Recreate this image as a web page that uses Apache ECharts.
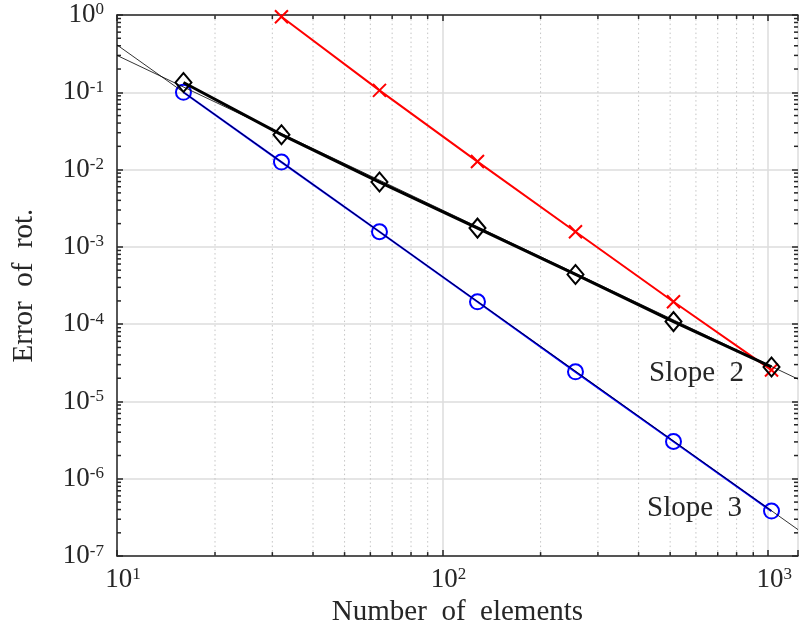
<!DOCTYPE html>
<html>
<head>
<meta charset="utf-8">
<script src="https://cdn.jsdelivr.net/npm/echarts@6/dist/echarts.min.js"></script>
<style>html,body{margin:0;padding:0;background:#fff;overflow:hidden;}#c{width:801px;height:632px;}</style>
</head>
<body>
<div id="c"></div>
<script>
// ---- data ----
const elements = [16, 32, 64, 128, 256, 512, 1024];
const errBlue = [0.1, 0.0125, 0.00157, 1.95e-4, 2.42e-5, 3.04e-6, 3.82e-7];      // blue circles
const errBlack = [0.134, 0.0283, 0.0069, 0.00175, 4.4e-4, 1.08e-4, 2.8e-5];      // black diamonds
const elementsRed = [32, 64, 128, 256, 512, 1024];
const errRed = [0.95, 0.106, 0.0127, 0.00157, 1.95e-4, 2.55e-5];                 // red crosses
const refX = [10, 1235];
const refSlope2 = [0.30, 1.95e-5];
const refSlope3 = [0.41, 2.2e-7];
const xMin = 10, xMax = 1235, yMin = 1e-7, yMax = 1;
const mantissas = [2, 3, 4, 5, 6, 7, 8, 9];
const xMinorDecades = [10, 100];
const yMinorDecades = [1e-7, 1e-6, 1e-5, 1e-4, 1e-3, 1e-2, 1e-1];
const annotations = [
  { text: 'Slope  2', left: 649, y: 373 },
  { text: 'Slope  3', left: 647, y: 508 }
];

const FONT = "'Liberation Serif', 'DejaVu Serif', serif";
const AX = '#262626';

const xMinor = [];
xMinorDecades.forEach(d => mantissas.forEach(m => xMinor.push([m * d, yMin])));
const yMinor = [];
yMinorDecades.forEach(d => mantissas.forEach(m => yMinor.push([xMin, m * d])));

function zip(a, b) { return a.map((v, i) => [v, b[i]]); }
function powLabel(v) {
  const l = Math.log10(v);
  const e = Math.round(l);
  if (Math.abs(l - e) > 1e-6) return '';
  return '{b|10}{s|' + e + '}';
}
const rich = {
  b: { fontSize: 27, fontFamily: FONT, color: AX },
  s: { fontSize: 17, fontFamily: FONT, color: AX, verticalAlign: 'top' }
};

const chart = echarts.init(document.getElementById('c'), null, { renderer: 'canvas', width: 801, height: 632 });

const axisLineStyle = { color: AX, width: 1.5 };

chart.setOption({
  animation: false,
  backgroundColor: '#fff',
  grid: { left: 117, width: 684, top: 15, height: 542 },
  xAxis: [
    {
      type: 'log', logBase: 10, min: xMin, max: xMax, interval: 1, position: 'bottom',
      axisLine: { show: true, lineStyle: axisLineStyle },
      axisTick: { show: true, inside: true, length: 6, lineStyle: axisLineStyle },
      axisLabel: { formatter: powLabel, rich: rich, margin: 10, padding: [0, 0, 0, 12], showMinLabel: true, showMaxLabel: true },
      splitLine: { show: true, lineStyle: { color: '#dcdcdc', width: 1.5 } },
      name: 'Number  of  elements', nameLocation: 'middle', nameGap: 39,
      nameTextStyle: { fontSize: 29, fontFamily: FONT, color: AX }
    },
    {
      type: 'log', logBase: 10, min: xMin, max: xMax, interval: 1, position: 'top',
      axisLine: { show: true, lineStyle: axisLineStyle },
      axisTick: { show: true, inside: true, length: 6, lineStyle: axisLineStyle },
      axisLabel: { show: false },
      splitLine: { show: false }
    }
  ],
  yAxis: [
    {
      type: 'log', logBase: 10, min: yMin, max: yMax, interval: 1, position: 'left',
      axisLine: { show: true, lineStyle: axisLineStyle },
      axisTick: { show: true, inside: true, length: 6, lineStyle: axisLineStyle },
      axisLabel: { formatter: powLabel, rich: rich, margin: 13 },
      splitLine: { show: true, lineStyle: { color: '#dcdcdc', width: 1.5 } },
      name: 'Error  of  rot.', nameLocation: 'middle', nameGap: 78,
      nameTextStyle: { fontSize: 29, fontFamily: FONT, color: AX }
    },
    {
      type: 'log', logBase: 10, min: yMin, max: yMax, interval: 1, position: 'right',
      axisLine: { show: false },
      axisTick: { show: true, inside: true, length: 6, lineStyle: axisLineStyle },
      axisLabel: { show: false },
      splitLine: { show: false }
    }
  ],
  graphic: annotations.map(a => ({
    type: 'text', left: a.left, top: a.y - 14, z: 50,
    style: { text: a.text, font: '29px ' + FONT, fill: AX }
  })),
  series: [
    {
      type: 'custom', silent: true, clip: false, z: 1,
      xAxisIndex: 0, yAxisIndex: 0,
      data: xMinor,
      renderItem: function (params, api) {
        const x = api.value(0);
        const b = api.coord([x, yMin]);
        const t = api.coord([x, yMax]);
        return {
          type: 'group',
          children: [
            { type: 'line', shape: { x1: b[0], y1: b[1], x2: t[0], y2: t[1] },
              style: { stroke: '#c4c4c4', lineWidth: 1, lineDash: [1.5, 3] } },
            { type: 'line', shape: { x1: b[0], y1: b[1], x2: b[0], y2: b[1] - 4 },
              style: { stroke: AX, lineWidth: 1.5 } },
            { type: 'line', shape: { x1: t[0], y1: t[1], x2: t[0], y2: t[1] + 4 },
              style: { stroke: AX, lineWidth: 1.5 } }
          ]
        };
      }
    },
    {
      type: 'custom', silent: true, clip: false, z: 1,
      xAxisIndex: 0, yAxisIndex: 0,
      data: yMinor,
      renderItem: function (params, api) {
        const y = api.value(1);
        const l = api.coord([xMin, y]);
        const r = api.coord([xMax, y]);
        return {
          type: 'group',
          children: [
            { type: 'line', shape: { x1: l[0], y1: l[1], x2: l[0] + 4, y2: l[1] },
              style: { stroke: AX, lineWidth: 1.5 } },
            { type: 'line', shape: { x1: r[0], y1: r[1], x2: r[0] - 4, y2: r[1] },
              style: { stroke: AX, lineWidth: 1.5 } }
          ]
        };
      }
    },
    {
      name: 'blue', type: 'line', z: 3, data: zip(elements, errBlue),
      symbol: 'circle', symbolSize: 15, showAllSymbol: true,
      lineStyle: { color: '#0000ff', width: 2 },
      itemStyle: { color: 'rgba(0,0,0,0)', borderColor: '#0000ff', borderWidth: 2 }
    },
    {
      name: 'red', type: 'line', z: 4, data: zip(elementsRed, errRed),
      symbol: 'path://M0,0L10,10M10,0L0,10', symbolSize: 13, showAllSymbol: true,
      lineStyle: { color: '#ff0000', width: 2 },
      itemStyle: { color: 'rgba(0,0,0,0)', borderColor: '#ff0000', borderWidth: 2 }
    },
    {
      name: 'black', type: 'line', z: 5, data: zip(elements, errBlack),
      symbol: 'diamond', symbolSize: [16, 19], showAllSymbol: true,
      lineStyle: { color: '#000000', width: 3 },
      itemStyle: { color: 'rgba(0,0,0,0)', borderColor: '#000000', borderWidth: 2 }
    },
    {
      name: 'ref2', type: 'line', z: 6, data: zip(refX, refSlope2), symbol: 'none',
      lineStyle: { color: '#000000', width: 0.8 }
    },
    {
      name: 'ref3', type: 'line', z: 6, data: zip(refX, refSlope3), symbol: 'none',
      lineStyle: { color: '#000000', width: 0.8 }
    }
  ]
});
</script>
</body>
</html>
